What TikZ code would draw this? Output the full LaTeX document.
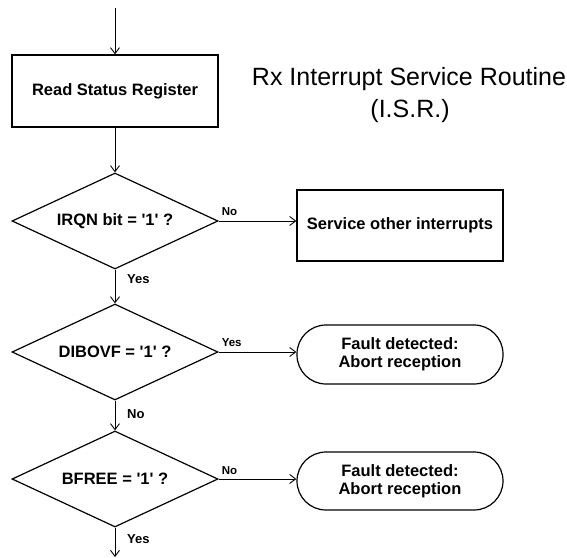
\documentclass[tikz,border=0pt]{standalone}
\usepackage{fontspec}
\setmainfont{Liberation Sans}
\usetikzlibrary{shapes.geometric,arrows.meta,calc}
\begin{document}
\begin{tikzpicture}[x=1pt,y=-1pt,
  conn/.style={line width=0.9pt,-{Straight Barb[length=6pt,width=9pt,line width=0.9pt]}},
  boxst/.style={draw,line width=1.2pt,minimum width=206pt,inner sep=0pt,align=center,
    font=\bfseries\fontsize{16.5}{18}\selectfont},
  dec/.style={draw,diamond,line width=1.2pt,minimum width=206pt,minimum height=96pt,
    inner sep=0pt,aspect=2.15,font=\bfseries\fontsize{16.5}{18}\selectfont},
  lblr/.style={font=\bfseries\fontsize{11.5}{13}\selectfont,inner sep=0pt,anchor=west},
  lblb/.style={font=\bfseries\fontsize{13}{15}\selectfont,inner sep=0pt,anchor=west},
  ttl/.style={font=\fontsize{25}{30}\selectfont,inner sep=0pt,anchor=base}
  ]
\useasboundingbox (0,0) rectangle (567,557);
\fill[white] (0,0) rectangle (567,557);

\coordinate (start) at (115,8);
\coordinate (end) at (115,557);

\node[boxst,minimum height=72pt] (rsr) at (115,91) {Read Status Register};
\node[ttl] (t1) at (409,85) {Rx Interrupt Service Routine};
\node[ttl] (t2) at (410,117) {(I.S.R.)};

\node[dec] (d1) at (115,221) {IRQN bit = \textquotesingle1\textquotesingle\ ?};
\node[dec] (d2) at (115,352) {DIBOVF = \textquotesingle1\textquotesingle\ ?};
\node[dec] (d3) at (115,479) {BFREE = \textquotesingle1\textquotesingle\ ?};

\node[boxst,minimum height=71pt] (soi) at (400,225.5) {Service other interrupts};
\node[boxst,minimum height=59pt,rounded corners=29pt] (f1) at (400,354.5) {Fault detected:\\Abort reception};
\node[boxst,minimum height=58pt,rounded corners=29pt] (f2) at (400,481) {Fault detected:\\Abort reception};

\draw[conn] (start) -- (rsr.north);
\draw[conn] (rsr.south) -- (d1.north);
\draw[conn] (d1.east) -- (d1.east -| soi.west);
\draw[conn] (d1.south) -- (d2.north);
\draw[conn] (d2.east) -- (d2.east -| f1.west);
\draw[conn] (d2.south) -- (d3.north);
\draw[conn] (d3.east) -- (d3.east -| f2.west);
\draw[conn] (d3.south) -- (end);

\node[lblr] (n1) at ([xshift=3pt,yshift=9pt]d1.east) {No};
\node[lblr] (y2) at ([xshift=3pt,yshift=9pt]d2.east) {Yes};
\node[lblr] (n3) at ([xshift=3pt,yshift=8pt]d3.east) {No};
\node[lblb] (y1) at ([xshift=12pt,yshift=-9pt]d1.south) {Yes};
\node[lblb] (n2) at ([xshift=12pt,yshift=-13pt]d2.south) {No};
\node[lblb] (y3) at ([xshift=12pt,yshift=-11pt]d3.south) {Yes};
\end{tikzpicture}
\end{document}
